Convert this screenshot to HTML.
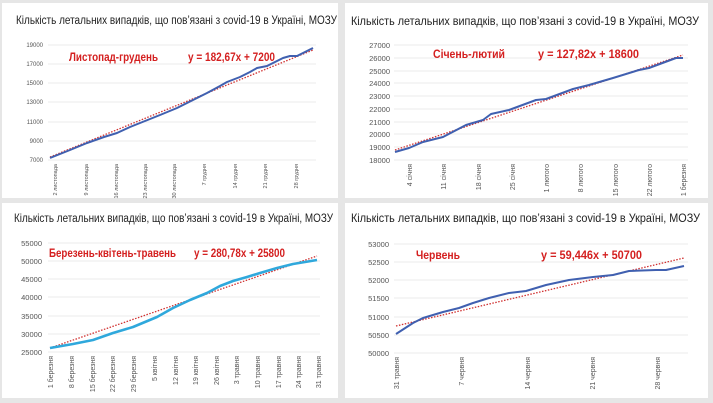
<!DOCTYPE html>
<html><head><meta charset="utf-8"><style>
html,body{margin:0;padding:0;background:#e6e6e6;}
svg{display:block;font-family:"Liberation Sans",sans-serif;}
.t{font-family:"Liberation Sans",sans-serif;font-size:11.5px;fill:#222;}
.y{font-size:6px;fill:#555;text-anchor:end;}
.y2{font-size:7.5px;fill:#555;text-anchor:end;}
.x{font-size:5.5px;fill:#555;text-anchor:end;}
.x2{font-size:7px;fill:#555;text-anchor:end;}
.r{font-size:12px;font-weight:bold;fill:#d42020;}
.g{stroke:#e4e4e4;stroke-width:0.7;}
.s{fill:none;stroke:#4060b0;stroke-width:2;stroke-linejoin:round;}
.tr{stroke:#d03030;stroke-width:1.3;stroke-dasharray:1.5,1.5;}
</style></head><body>
<svg width="713" height="403" viewBox="0 0 713 403">
<rect x="2" y="3" width="336" height="195" fill="#fff"/>
<rect x="345" y="3" width="363" height="195" fill="#fff"/>
<rect x="2" y="203" width="336" height="195" fill="#fff"/>
<rect x="345" y="203" width="363" height="195" fill="#fff"/>

<!-- Panel 1 -->
<text class="t" x="16" y="24" textLength="321" lengthAdjust="spacingAndGlyphs">Кількість летальних випадків, що пов’язані з covid-19 в Україні, МОЗУ</text>
<g class="g">
<line x1="48" y1="45" x2="316" y2="45"/><line x1="48" y1="64" x2="316" y2="64"/><line x1="48" y1="83" x2="316" y2="83"/>
<line x1="48" y1="102" x2="316" y2="102"/><line x1="48" y1="122" x2="316" y2="122"/><line x1="48" y1="141" x2="316" y2="141"/><line x1="48" y1="160" x2="316" y2="160"/>
</g>
<g class="y"><text x="43" y="47">19000</text><text x="43" y="66">17000</text><text x="43" y="85">15000</text><text x="43" y="104">13000</text><text x="43" y="124">11000</text><text x="43" y="143">9000</text><text x="43" y="162">7000</text></g>
<g class="x">
<text transform="translate(57,164) rotate(-90)">2 листопада</text>
<text transform="translate(88,164) rotate(-90)">9 листопада</text>
<text transform="translate(118,164) rotate(-90)">16 листопада</text>
<text transform="translate(147,164) rotate(-90)">23 листопада</text>
<text transform="translate(176,164) rotate(-90)">30 листопада</text>
<text transform="translate(206,164) rotate(-90)">7 грудня</text>
<text transform="translate(237,164) rotate(-90)">14 грудня</text>
<text transform="translate(267,164) rotate(-90)">21 грудня</text>
<text transform="translate(298,164) rotate(-90)">28 грудня</text>
</g>
<line class="tr" x1="50" y1="157" x2="313" y2="50"/>
<polyline class="s" points="50,158 70,150 87,143 104,137 117,133 130,127 140,123 160,115 177,108 195,99 207,93 220,86 227,82 240,77 250,72 257,68 267,66 283,58 290,56 297,56 305,52 313,48"/>
<text class="r" x="69" y="61" textLength="89" lengthAdjust="spacingAndGlyphs">Листопад-грудень</text>
<text class="r" x="188" y="61" textLength="87" lengthAdjust="spacingAndGlyphs">y = 182,67x + 7200</text>

<!-- Panel 2 -->
<text class="t" x="351" y="25" textLength="348" lengthAdjust="spacingAndGlyphs">Кількість летальних випадків, що пов’язані з covid-19 в Україні, МОЗУ</text>
<g class="g">
<line x1="394" y1="45" x2="688" y2="45"/><line x1="394" y1="58" x2="688" y2="58"/><line x1="394" y1="71" x2="688" y2="71"/><line x1="394" y1="83" x2="688" y2="83"/><line x1="394" y1="96" x2="688" y2="96"/><line x1="394" y1="109" x2="688" y2="109"/><line x1="394" y1="122" x2="688" y2="122"/><line x1="394" y1="134" x2="688" y2="134"/><line x1="394" y1="147" x2="688" y2="147"/><line x1="394" y1="160" x2="688" y2="160"/>
</g>
<g class="y2"><text x="390" y="48">27000</text><text x="390" y="61">26000</text><text x="390" y="74">25000</text><text x="390" y="86">24000</text><text x="390" y="99">23000</text><text x="390" y="112">22000</text><text x="390" y="125">21000</text><text x="390" y="137">20000</text><text x="390" y="150">19000</text><text x="390" y="163">18000</text></g>
<g class="x2">
<text transform="translate(412,164) rotate(-90)">4 січня</text>
<text transform="translate(446,164) rotate(-90)">11 січня</text>
<text transform="translate(481,164) rotate(-90)">18 січня</text>
<text transform="translate(515,164) rotate(-90)">25 січня</text>
<text transform="translate(549,164) rotate(-90)">1 лютого</text>
<text transform="translate(583,164) rotate(-90)">8 лютого</text>
<text transform="translate(618,164) rotate(-90)">15 лютого</text>
<text transform="translate(652,164) rotate(-90)">22 лютого</text>
<text transform="translate(686,164) rotate(-90)">1 березня</text>
</g>
<line class="tr" x1="395" y1="150" x2="683" y2="55"/>
<polyline class="s" points="395,152 409,148 423,142 443,137 466,125 483,120 491,114 509,110 536,100 546,99 573,89 589,85 613,78 639,70 649,68 676,58 683,58"/>
<text class="r" x="433" y="58" textLength="72" lengthAdjust="spacingAndGlyphs">Січень-лютий</text>
<text class="r" x="538" y="58" textLength="101" lengthAdjust="spacingAndGlyphs">y = 127,82x + 18600</text>

<!-- Panel 3 -->
<text class="t" x="14" y="222" textLength="319" lengthAdjust="spacingAndGlyphs">Кількість летальних випадків, що пов’язані з covid-19 в Україні, МОЗУ</text>
<g class="g">
<line x1="48" y1="243" x2="320" y2="243"/><line x1="48" y1="261" x2="320" y2="261"/><line x1="48" y1="279" x2="320" y2="279"/><line x1="48" y1="297" x2="320" y2="297"/><line x1="48" y1="316" x2="320" y2="316"/><line x1="48" y1="334" x2="320" y2="334"/><line x1="48" y1="352" x2="320" y2="352"/>
</g>
<g class="y2"><text x="42" y="246">55000</text><text x="42" y="264">50000</text><text x="42" y="282">45000</text><text x="42" y="300">40000</text><text x="42" y="319">35000</text><text x="42" y="337">30000</text><text x="42" y="355">25000</text></g>
<g class="x2">
<text transform="translate(53,356) rotate(-90)">1 березня</text>
<text transform="translate(74,356) rotate(-90)">8 березня</text>
<text transform="translate(95,356) rotate(-90)">15 березня</text>
<text transform="translate(115,356) rotate(-90)">22 березня</text>
<text transform="translate(136,356) rotate(-90)">29 березня</text>
<text transform="translate(157,356) rotate(-90)">5 квітня</text>
<text transform="translate(178,356) rotate(-90)">12 квітня</text>
<text transform="translate(198,356) rotate(-90)">19 квітня</text>
<text transform="translate(219,356) rotate(-90)">26 квітня</text>
<text transform="translate(239,356) rotate(-90)">3 травня</text>
<text transform="translate(260,356) rotate(-90)">10 травня</text>
<text transform="translate(281,356) rotate(-90)">17 травня</text>
<text transform="translate(301,356) rotate(-90)">24 травня</text>
<text transform="translate(321,356) rotate(-90)">31 травня</text>
</g>
<line class="tr" x1="50" y1="348" x2="317" y2="256"/>
<polyline class="s" style="stroke:#2fa8dc;stroke-width:2.6" points="50,348 73,344 93,340 113,333 133,327 157,317 173,308 190,300 207,293 220,286 233,281 247,277 260,273 277,268 293,264 305,262 317,260"/>
<text class="r" x="49" y="257" textLength="127" lengthAdjust="spacingAndGlyphs">Березень-квітень-травень</text>
<text class="r" x="194" y="257" textLength="91" lengthAdjust="spacingAndGlyphs">y = 280,78x + 25800</text>

<!-- Panel 4 -->
<text class="t" x="351" y="222" textLength="349" lengthAdjust="spacingAndGlyphs">Кількість летальних випадків, що пов’язані з covid-19 в Україні, МОЗУ</text>
<g class="g">
<line x1="394" y1="244" x2="688" y2="244"/><line x1="394" y1="262" x2="688" y2="262"/><line x1="394" y1="280" x2="688" y2="280"/><line x1="394" y1="298" x2="688" y2="298"/><line x1="394" y1="317" x2="688" y2="317"/><line x1="394" y1="335" x2="688" y2="335"/><line x1="394" y1="353" x2="688" y2="353"/>
</g>
<g class="y2"><text x="389" y="247">53000</text><text x="389" y="265">52500</text><text x="389" y="283">52000</text><text x="389" y="301">51500</text><text x="389" y="320">51000</text><text x="389" y="338">50500</text><text x="389" y="356">50000</text></g>
<g class="x2">
<text transform="translate(399,357) rotate(-90)">31 травня</text>
<text transform="translate(464,357) rotate(-90)">7 червня</text>
<text transform="translate(530,357) rotate(-90)">14 червня</text>
<text transform="translate(595,357) rotate(-90)">21 червня</text>
<text transform="translate(660,357) rotate(-90)">28 червня</text>
</g>
<line class="tr" x1="396" y1="326" x2="684" y2="258"/>
<polyline class="s" points="396,334 413,323 423,318 443,312 459,308 473,303 489,298 509,293 526,291 546,285 569,280 593,277 613,275 629,271 656,270 666,270 684,266"/>
<text class="r" x="416" y="259" textLength="44" lengthAdjust="spacingAndGlyphs">Червень</text>
<text class="r" x="541" y="259" textLength="101" lengthAdjust="spacingAndGlyphs">y = 59,446x + 50700</text>
</svg>
</body></html>
